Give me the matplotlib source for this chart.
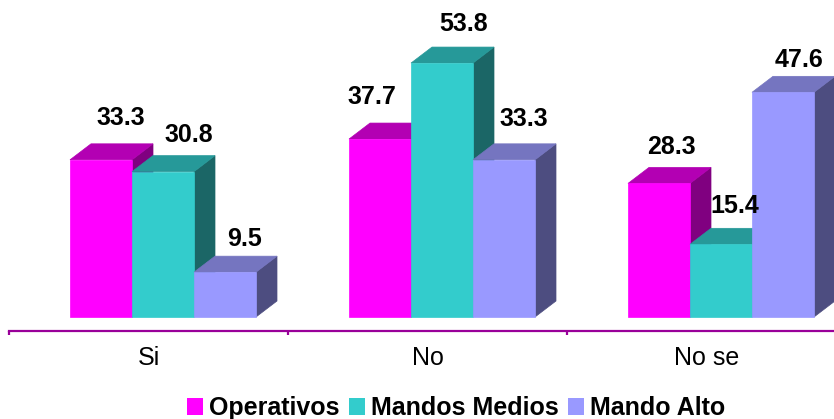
import matplotlib
matplotlib.use('Agg')
import matplotlib.pyplot as plt
from matplotlib.patches import Polygon, Patch

plt.rcParams['font.family'] = ['Liberation Sans', 'DejaVu Sans']

# datos
categorias = ['Si', 'No', 'No se']
series = ['Operativos', 'Mandos Medios', 'Mando Alto']
operativos = [33.3, 37.7, 28.3]
mandos_medios = [30.8, 53.8, 15.4]
mando_alto = [9.5, 33.3, 47.6]
valores = [operativos, mandos_medios, mando_alto]

# colores: frente, tapa, lateral
colores = [('#ff00ff', '#b300b3', '#800080'),
           ('#33cccc', '#269999', '#1b6666'),
           ('#9999ff', '#7575c0', '#4d4d80')]

# escala en pixeles
PX_CAT = 279.0
PX_VAL = 4.72
ancho = 62 / PX_CAT
inicio = 61 / PX_CAT
prof_x = 21 / PX_CAT
prof_y = 16 / PX_VAL

# desplazamiento de las etiquetas (px)
ajustes = [[(20, 42), (-8, 42), (12, 36)],
           [(26, 37), (22, 39), (14, 38)],
           [(19, 33), (20, 41), (16, 32)]]


def barra3d(ax, x0, h, cols):
    x1 = x0 + ancho
    frente = Polygon([(x0, 0), (x1, 0), (x1, h), (x0, h)], closed=True,
                     facecolor=cols[0], edgecolor=cols[0], lw=0.5)
    tapa = Polygon([(x0, h), (x1, h), (x1 + prof_x, h + prof_y),
                    (x0 + prof_x, h + prof_y)], closed=True,
                   facecolor=cols[1], edgecolor=cols[1], lw=0.5)
    lado = Polygon([(x1, 0), (x1 + prof_x, prof_y), (x1 + prof_x, h + prof_y),
                    (x1, h)], closed=True,
                   facecolor=cols[2], edgecolor=cols[2], lw=0.5)
    ax.add_patch(lado)
    ax.add_patch(tapa)
    ax.add_patch(frente)


fig = plt.figure(figsize=(8.34, 4.19), dpi=100)
ax = fig.add_axes([9 / 834, 88 / 419, 825 / 834, 331 / 419])
ax.set_xlim(0, 825 / PX_CAT)
ax.set_ylim(-14 / PX_VAL, 317 / PX_VAL)

for i in range(len(categorias)):
    for s in range(len(series)):
        x0 = i + inicio + s * ancho
        v = valores[s][i]
        barra3d(ax, x0, v, colores[s])
        ax.annotate('{0:.1f}'.format(v), xy=(x0 + ancho / 2, v),
                    xytext=ajustes[s][i], textcoords='offset pixels',
                    ha='center', va='center', fontsize=18,
                    fontweight='bold', annotation_clip=False)

# eje de categorias
for lado in ['left', 'right', 'top']:
    ax.spines[lado].set_visible(False)
ax.spines['bottom'].set_color('#990099')
ax.spines['bottom'].set_linewidth(1.6)
ax.set_yticks([])
ax.set_xticks(range(len(categorias)))
ax.set_xticklabels([])
ax.tick_params(axis='x', which='major', direction='out', length=3,
               width=1.6, color='#990099')
ax.set_xticks([i + 0.5 for i in range(len(categorias))], minor=True)
ax.set_xticklabels(categorias, minor=True, fontsize=18)
ax.tick_params(axis='x', which='minor', length=0, pad=11)

handles = [Patch(facecolor=c[0], edgecolor='none') for c in colores]
fig.legend(handles, series, loc='center', bbox_to_anchor=(456 / 834, 11 / 419),
           ncol=3, frameon=False, prop={'weight': 'bold', 'size': 18},
           handlelength=0.65, handleheight=0.65, handletextpad=0.25,
           columnspacing=0.35, borderaxespad=0, borderpad=0)

fig.savefig('out.png', dpi=100)
